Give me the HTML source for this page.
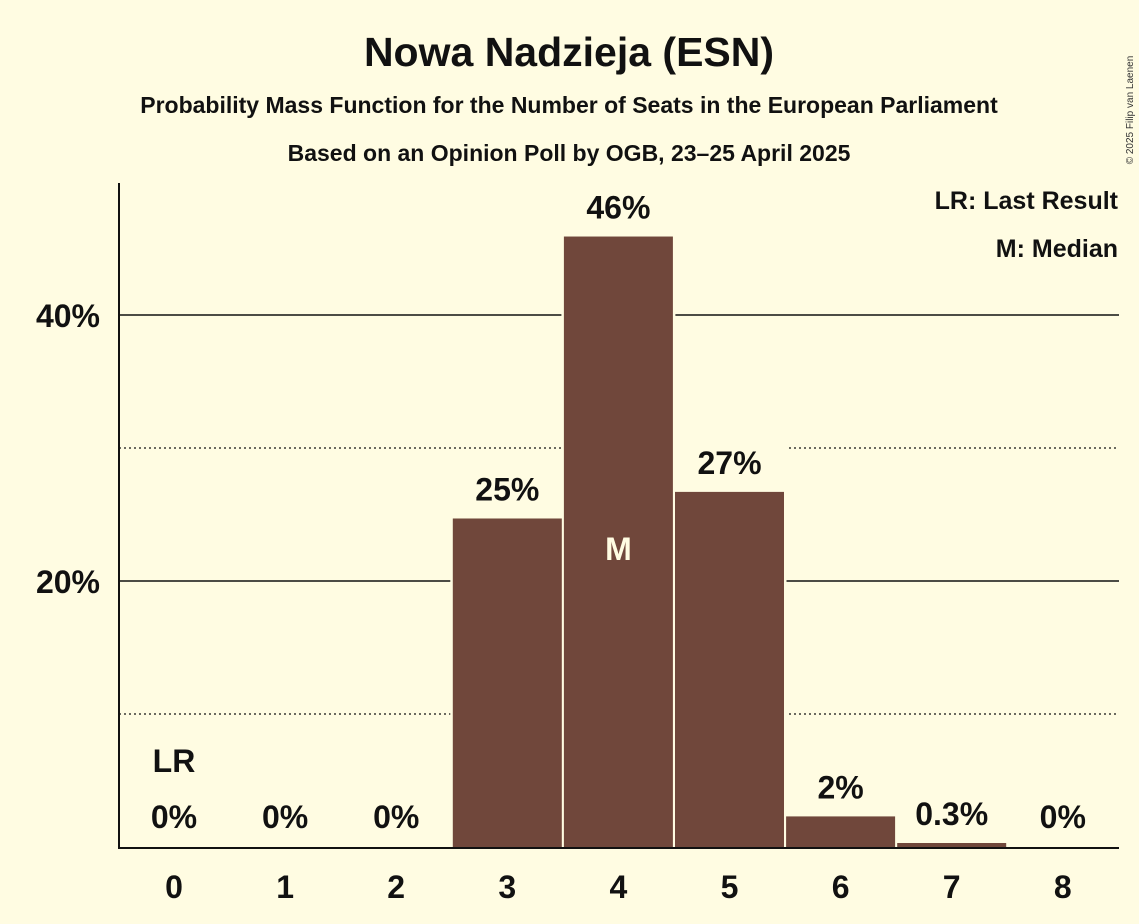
<!DOCTYPE html>
<html><head><meta charset="utf-8"><style>
body{margin:0;background:#FFFCE2;}
svg{display:block;font-family:"Liberation Sans",sans-serif;font-weight:bold;}
</style></head><body>
<svg id="c" width="1139" height="924">
<rect width="1139" height="924" fill="#FFFCE2"/>
<text x="569" y="66" font-size="41" text-anchor="middle" fill="#111">Nowa Nadzieja (ESN)</text>
<text x="569" y="113" font-size="23" text-anchor="middle" fill="#111">Probability Mass Function for the Number of Seats in the European Parliament</text>
<text x="569" y="161" font-size="23" text-anchor="middle" fill="#111">Based on an Opinion Poll by OGB, 23–25 April 2025</text>
<text x="1133" y="110" font-size="10" font-weight="normal" fill="#333" transform="rotate(-90 1133 110)" text-anchor="middle">© 2025 Filip van Laenen</text>
<g id="grid"></g>
<g id="masks"></g>
<g id="bars"></g>
<line x1="119" y1="183" x2="119" y2="849" stroke="#111" stroke-width="2"/>
<line x1="118" y1="848" x2="1119" y2="848" stroke="#111" stroke-width="2"/>
<text x="1118" y="209" font-size="25" text-anchor="end" fill="#111">LR: Last Result</text>
<text x="1118" y="257" font-size="25" text-anchor="end" fill="#111">M: Median</text>
</svg>
<script>
const categories=["0","1","2","3","4","5","6","7","8"];
const values=[0,0,0,24.7,45.9,26.7,2.3,0.3,0];
const labels=["0%","0%","0%","25%","46%","27%","2%","0.3%","0%"];
const yTicks=[10,20,30,40];
const yTickLabels=["","20%","","40%"];
const lastResult=0, median=4;
const NS="http://www.w3.org/2000/svg";
const y=v=>847-v*13.3;
const x=i=>174+i*111.1;
function mk(t,a,p){const e=document.createElementNS(NS,t);for(const k in a)e.setAttribute(k,a[k]);p.appendChild(e);return e;}
const g=document.getElementById('grid'),m=document.getElementById('masks'),b=document.getElementById('bars');
yTicks.forEach((t,i)=>{
 const major=yTickLabels[i]!=="";
 const l=mk('line',{x1:119,x2:1119,y1:y(t),y2:y(t),stroke:"#111","stroke-width":major?1.6:1.2,"stroke-dasharray":major?"":"2,3"},g);
 
 
 if(major){const tx=mk('text',{x:100,y:y(t)+12,"font-size":32,"text-anchor":"end",fill:"#111"},g);tx.textContent=yTickLabels[i];
 
 }
});
values.forEach((v,i)=>{
 const cx=x(i);
 const ty=v>0?y(v)-18:828;
 if(v>0){
  mk('rect',{x:cx-57,y:y(v)-60,width:114,height:847-y(v)+60,fill:"#FFFCE2"},m);
  const r=mk('rect',{x:cx-54.5,y:y(v),width:109,height:847-y(v),fill:"#70473B"},b);
  
  
 }
 const t=mk('text',{x:cx,y:ty,"font-size":32,"text-anchor":"middle",fill:"#111"},b);
 t.textContent=labels[i];
 
 
 const xt=mk('text',{x:cx,y:898,"font-size":32,"text-anchor":"middle",fill:"#111"},b);
 xt.textContent=categories[i];
 
 
 if(i===lastResult){const lr=mk('text',{x:cx,y:772,"font-size":32,"text-anchor":"middle",fill:"#111"},b);lr.textContent="LR";
  
  }
 if(i===median){const mm=mk('text',{x:cx,y:y(22.5)+12,"font-size":32,"text-anchor":"middle",fill:"#FFFCE2"},b);mm.textContent="M";
  
  }
});
</script>
</body></html>
